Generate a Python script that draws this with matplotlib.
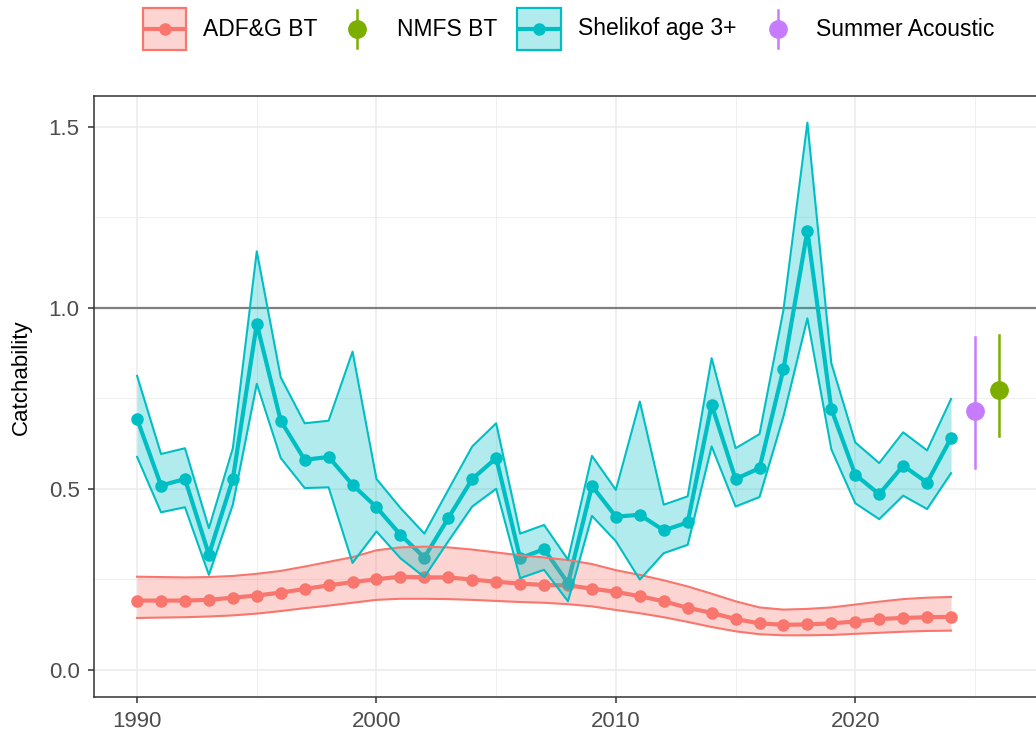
import numpy as np
import matplotlib
matplotlib.use("Agg")
import matplotlib.pyplot as plt
from matplotlib.patches import Rectangle
from matplotlib.ticker import MultipleLocator

plt.rcParams['font.family'] = ['Liberation Sans', 'DejaVu Sans']

years = list(range(1990, 2025))

shelikof_mean = [0.693, 0.509, 0.527, 0.318, 0.527, 0.956, 0.688, 0.580, 0.588, 0.511,
                 0.449, 0.373, 0.310, 0.419, 0.527, 0.585, 0.308, 0.333, 0.239, 0.508,
                 0.423, 0.428, 0.385, 0.407, 0.732, 0.527, 0.557, 0.831, 1.213, 0.720,
                 0.539, 0.485, 0.564, 0.517, 0.640]
shelikof_upper = [0.812, 0.596, 0.612, 0.391, 0.612, 1.156, 0.808, 0.681, 0.688, 0.879,
                  0.527, 0.447, 0.376, 0.497, 0.617, 0.681, 0.376, 0.400, 0.304, 0.591,
                  0.497, 0.741, 0.456, 0.479, 0.861, 0.612, 0.651, 0.994, 1.512, 0.847,
                  0.628, 0.571, 0.656, 0.606, 0.748]
shelikof_lower = [0.588, 0.435, 0.449, 0.262, 0.456, 0.790, 0.585, 0.502, 0.504, 0.295,
                  0.382, 0.308, 0.256, 0.355, 0.451, 0.500, 0.253, 0.276, 0.189, 0.425,
                  0.355, 0.249, 0.322, 0.345, 0.617, 0.451, 0.477, 0.700, 0.971, 0.609,
                  0.460, 0.416, 0.481, 0.444, 0.543]

adfg_mean = [0.191, 0.191, 0.191, 0.193, 0.199, 0.205, 0.213, 0.223, 0.233, 0.242,
             0.250, 0.257, 0.255, 0.255, 0.249, 0.243, 0.238, 0.234, 0.233, 0.224,
             0.215, 0.203, 0.189, 0.171, 0.157, 0.140, 0.128, 0.124, 0.125, 0.128,
             0.133, 0.140, 0.143, 0.145, 0.146]
adfg_upper = [0.257, 0.256, 0.255, 0.256, 0.259, 0.265, 0.273, 0.285, 0.298, 0.311,
              0.330, 0.338, 0.340, 0.338, 0.332, 0.324, 0.316, 0.310, 0.303, 0.292,
              0.275, 0.262, 0.247, 0.230, 0.210, 0.189, 0.172, 0.166, 0.168, 0.172,
              0.180, 0.188, 0.195, 0.199, 0.201]
adfg_lower = [0.143, 0.144, 0.145, 0.147, 0.150, 0.155, 0.162, 0.170, 0.177, 0.185,
              0.193, 0.196, 0.196, 0.195, 0.193, 0.190, 0.187, 0.185, 0.181, 0.175,
              0.165, 0.156, 0.145, 0.132, 0.118, 0.106, 0.098, 0.095, 0.095, 0.096,
              0.099, 0.102, 0.105, 0.107, 0.108]

acoustic_year, acoustic_mean, acoustic_lower, acoustic_upper = 2025, 0.716, 0.557, 0.919
nmfs_year, nmfs_mean, nmfs_lower, nmfs_upper = 2026, 0.772, 0.645, 0.925

labels = ["ADF&G BT", "NMFS BT", "Shelikof age 3+", "Summer Acoustic"]
colors = {"ADF&G BT": "#F8766D", "NMFS BT": "#7CAE00",
          "Shelikof age 3+": "#00BFC4", "Summer Acoustic": "#C77CFF"}

fig = plt.figure(figsize=(10.36, 7.38), dpi=100)
ax = fig.add_axes([94/1036, 41/738, 948/1036, 601/738])

ax.set_xlim(1988.2, 2027.8)
ax.set_ylim(-0.0755, 1.5855)

# grid
ax.xaxis.set_major_locator(MultipleLocator(10))
ax.xaxis.set_minor_locator(MultipleLocator(5))
ax.yaxis.set_major_locator(MultipleLocator(0.5))
ax.yaxis.set_minor_locator(MultipleLocator(0.25))
ax.grid(which='major', color='#EBEBEB', lw=1.1, zorder=0)
ax.grid(which='minor', color='#EBEBEB', lw=0.55, zorder=0)
ax.set_axisbelow(True)

ax.axhline(1.0, color='#7F7F7F', lw=1.6, zorder=1)

# lines and points
for name, yv in [("ADF&G BT", adfg_mean), ("Shelikof age 3+", shelikof_mean)]:
    ax.plot(years, yv, color=colors[name], lw=3.0, marker='o', ms=8, zorder=2)

# error bars
ax.plot([acoustic_year, acoustic_year], [acoustic_lower, acoustic_upper],
        color=colors["Summer Acoustic"], lw=1.8, zorder=2)
ax.plot([acoustic_year], [acoustic_mean], 'o', color=colors["Summer Acoustic"], ms=12.5, zorder=3)
ax.plot([nmfs_year, nmfs_year], [nmfs_lower, nmfs_upper],
        color=colors["NMFS BT"], lw=1.8, zorder=2)
ax.plot([nmfs_year], [nmfs_mean], 'o', color=colors["NMFS BT"], ms=12.5, zorder=3)

# ribbons
for name, lo, hi in [("ADF&G BT", adfg_lower, adfg_upper),
                     ("Shelikof age 3+", shelikof_lower, shelikof_upper)]:
    ax.fill_between(years, lo, hi, color=colors[name], alpha=0.3, lw=0, zorder=4)
    ax.plot(years, lo, color=colors[name], lw=1.5, zorder=5)
    ax.plot(years, hi, color=colors[name], lw=1.5, zorder=5)

ax.set_xticks([1990, 2000, 2010, 2020])
ax.set_yticks([0.0, 0.5, 1.0, 1.5])
ax.set_yticklabels(["0.0", "0.5", "1.0", "1.5"])
ax.tick_params(axis='both', which='major', labelsize=16, labelcolor='#4D4D4D',
               color='#333333', length=4.3, width=1.1, pad=6)
ax.tick_params(which='minor', length=0)
for sp in ax.spines.values():
    sp.set_color('#333333')
    sp.set_linewidth(1.1)

ax.set_ylabel("Catchability", fontsize=16, color='black', labelpad=12)
ax.yaxis.label.set_y(0.532)

# legend drawn in pixel space
lax = fig.add_axes([0, 0, 1, 1], zorder=10)
lax.set_xlim(0, 1036)
lax.set_ylim(738, 0)
lax.axis('off')
yc = 29
fs = 16.5
box_items = [("ADF&G BT", 143, 186, 203), ("Shelikof age 3+", 517, 561, 578)]
for name, x0, x1, tx in box_items:
    c = colors[name]
    lax.add_patch(Rectangle((x0, yc - 21), x1 - x0, 42, facecolor=c, alpha=0.3, lw=0))
    lax.add_patch(Rectangle((x0, yc - 21), x1 - x0, 42, facecolor='none', edgecolor=c, lw=1.6))
    lax.plot([x0, x1], [yc, yc], color=c, lw=3, solid_capstyle='butt')
    lax.plot([(x0 + x1) / 2], [yc], 'o', color=c, ms=8)
    lax.text(tx, yc, name, fontsize=fs, va='center', ha='left', color='black')
pt_items = [("NMFS BT", 357, 397), ("Summer Acoustic", 778, 816)]
for name, xm, tx in pt_items:
    c = colors[name]
    lax.plot([xm, xm], [yc - 19, yc + 19], color=c, lw=1.8)
    lax.plot([xm], [yc], 'o', color=c, ms=12.5)
    lax.text(tx, yc, name, fontsize=fs, va='center', ha='left', color='black')

fig.savefig("out.png", dpi=100)
